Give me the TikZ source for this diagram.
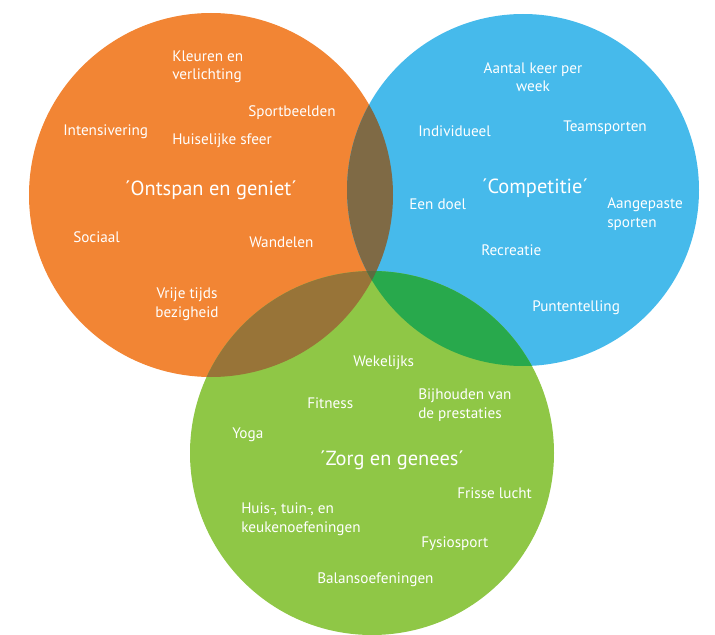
\documentclass[tikz,border=0pt]{standalone}
\usepackage{fontspec}
\setmainfont{PT Sans}
\definecolor{corange}{HTML}{F28534}
\definecolor{cblue}{HTML}{46BAEB}
\definecolor{cgreen}{HTML}{8FC746}
\definecolor{cob}{HTML}{7F6A45}
\definecolor{cog}{HTML}{987438}
\definecolor{cbg}{HTML}{28A94C}
\definecolor{cobg}{HTML}{5E6B40}
\begin{document}
\begin{tikzpicture}[x=0.75pt,y=-0.75pt,
  lbl/.style={text=white,font=\fontsize{11.4}{13.9}\selectfont,inner sep=0pt},
  lblw/.style={lbl,anchor=west,align=left},
  lblc/.style={lbl,align=center},
  ttl/.style={text=white,font=\fontsize{15.3}{18}\selectfont,inner sep=0pt}]
\useasboundingbox (0,0) rectangle (715,635);
\def\co{(211,195) circle (182)}
\def\cb{(523,190) circle (176)}
\def\cg{(372,453) circle (182)}
\fill[corange] \co;
\fill[cblue] \cb;
\fill[cgreen] \cg;
\begin{scope}\clip \co; \fill[cob] \cb; \end{scope}
\begin{scope}\clip \co; \fill[cog] \cg; \end{scope}
\begin{scope}\clip \cb; \fill[cbg] \cg; \end{scope}
\begin{scope}\clip \co; \clip \cb; \fill[cobg] \cg; \end{scope}
% orange
\node[lblw] (kl) at (172,67) {Kleuren en\\verlichting};
\node[lblw] (sp) at (248,113) {Sportbeelden};
\node[lblw] (in) at (63,132) {Intensivering};
\node[lblw] (hu) at (172,141) {Huiselijke sfeer};
\node[ttl] (og) at (211,190) {´Ontspan en geniet´};
\node[lblw] (so) at (73,237) {Sociaal};
\node[lblw] (wa) at (249,242) {Wandelen};
\node[lblc] (vr) at (187,304) {Vrije tijds\\bezigheid};
% blue
\node[lblc] (aa) at (533,77) {Aantal keer per\\week};
\node[lblw] (id) at (418,131) {Individueel};
\node[lblw] (te) at (563,128) {Teamsporten};
\node[ttl] (co) at (535,188) {´Competitie´};
\node[lblw] (ed) at (409,204) {Een doel};
\node[lblw] (ag) at (607,214) {Aangepaste\\sporten};
\node[lblw] (re) at (481,250) {Recreatie};
\node[lblw] (pu) at (532,308) {Puntentelling};
% green
\node[lblw] (we) at (353,363) {Wekelijks};
\node[lblw] (fi) at (307,403) {Fitness};
\node[lblw] (bi) at (418,405) {Bijhouden van\\de prestaties};
\node[lblw] (yo) at (232,435) {Yoga};
\node[ttl] (zg) at (392,460) {´Zorg en genees´};
\node[lblw] (fr) at (457,493) {Frisse lucht};
\node[lblw] (hs) at (241,519) {Huis-, tuin-, en\\keukenoefeningen};
\node[lblw] (fy) at (421,544) {Fysiosport};
\node[lblw] (ba) at (317,580) {Balansoefeningen};
\end{tikzpicture}
\end{document}
